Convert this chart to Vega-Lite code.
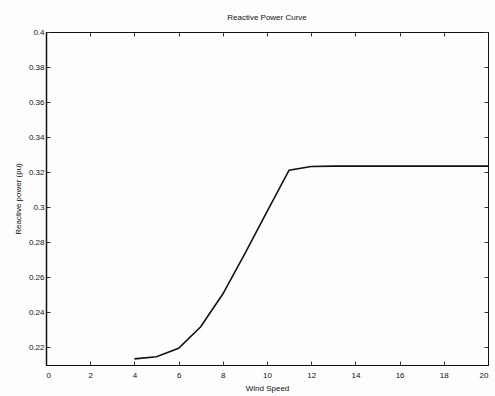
{
  "$schema": "https://vega.github.io/schema/vega-lite/v6.json",
  "autosize": "none",
  "width": 442,
  "height": 333,
  "padding": {"left": 46, "top": 32, "right": 7, "bottom": 31},
  "background": "#fdfdfd",
  "title": {"text": "Reactive Power Curve", "fontSize": 8, "font": "Liberation Sans", "fontWeight": "normal", "color": "#111", "offset": 6},
  "config": {"view": {"stroke": "#111", "strokeWidth": 1}, "axis": {"grid": false, "domainColor": "#111", "tickColor": "#333", "labelColor": "#111", "titleColor": "#111", "labelFont": "Liberation Sans", "titleFont": "Liberation Sans", "labelFontSize": 8, "titleFontSize": 8, "titleFontWeight": "normal", "tickSize": -4}},
  "data": {"values": [
    {"wind": 4, "q": 0.2135},
    {"wind": 5, "q": 0.2147},
    {"wind": 6, "q": 0.2195},
    {"wind": 7, "q": 0.2318},
    {"wind": 8, "q": 0.2505},
    {"wind": 9, "q": 0.2735},
    {"wind": 10, "q": 0.2975},
    {"wind": 11, "q": 0.3212},
    {"wind": 12, "q": 0.3233},
    {"wind": 13, "q": 0.3235},
    {"wind": 14, "q": 0.3235},
    {"wind": 15, "q": 0.3235},
    {"wind": 16, "q": 0.3235},
    {"wind": 17, "q": 0.3235},
    {"wind": 18, "q": 0.3235},
    {"wind": 19, "q": 0.3235},
    {"wind": 20, "q": 0.3235}
  ]},
  "layer": [
    {
      "mark": {"type": "line", "color": "#111", "strokeWidth": 1.6},
      "encoding": {
        "x": {"field": "wind", "type": "quantitative", "scale": {"domain": [0, 20], "nice": false}, "axis": {"title": "Wind Speed", "values": [0,2,4,6,8,10,12,14,16,18,20], "titlePadding": 5, "labelPadding": 10}},
        "y": {"field": "q", "type": "quantitative", "scale": {"domain": [0.21, 0.4], "nice": false, "zero": false}, "axis": {"title": "Reactive power (pu)", "values": [0.22,0.24,0.26,0.28,0.3,0.32,0.34,0.36,0.38,0.4], "format": ".2~f", "labelPadding": 6, "titlePadding": 6, "domainWidth": 1.5}}
      }
    },
    {
      "mark": {"type": "line", "opacity": 0},
      "encoding": {
        "x": {"field": "wind", "type": "quantitative", "axis": {"orient": "top", "labels": false, "title": null, "values": [0,2,4,6,8,10,12,14,16,18,20]}},
        "y": {"field": "q", "type": "quantitative", "axis": {"orient": "right", "labels": false, "title": null, "values": [0.22,0.24,0.26,0.28,0.3,0.32,0.34,0.36,0.38,0.4]}}
      }
    }
  ],
  "resolve": {"axis": {"x": "independent", "y": "independent"}}
}
